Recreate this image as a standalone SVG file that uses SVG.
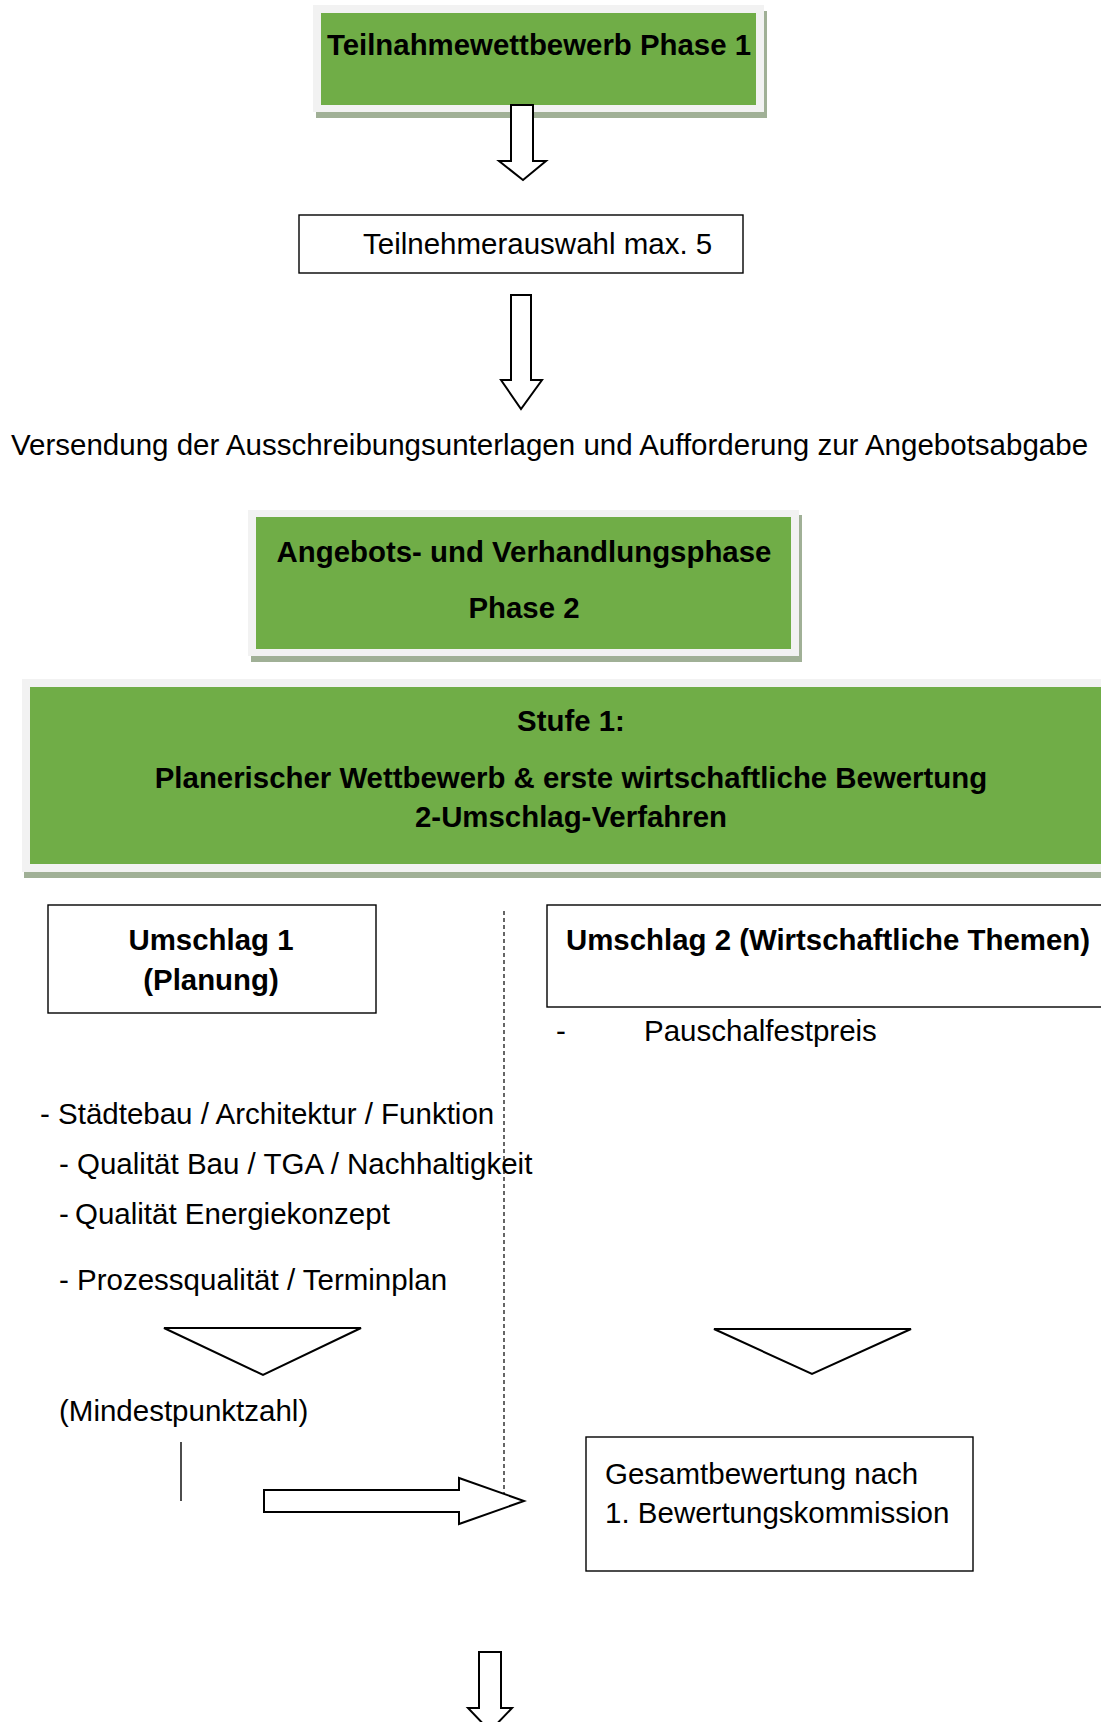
<svg xmlns="http://www.w3.org/2000/svg" width="1101" height="1722" viewBox="0 0 1101 1722">
<style>
text{font-family:"Liberation Sans",Arial,sans-serif;fill:#000}
.b{font-weight:bold;font-size:29.4px}
.r{font-size:29.5px}
.shadow{fill:#a0b096}
.frame{fill:#f2f2f2}
.green{fill:#70ad47}
.box{fill:#fff;stroke:#000;stroke-width:1.4}
.arrow{fill:#fff;stroke:#000;stroke-width:2;stroke-linejoin:miter}
.tri{fill:#fff;stroke:#000;stroke-width:2}
</style>
<rect width="1101" height="1722" fill="#fff"/>

<g id="phase1">
  <rect class="shadow" x="316" y="11" width="451" height="107"/>
  <rect class="frame" x="313" y="5" width="451" height="107"/>
  <rect class="green" x="321" y="13" width="435" height="92"/>
  <text class="b" x="539" y="55" text-anchor="middle">Teilnahmewettbewerb Phase 1</text>
</g>

<g id="auswahl">
  <rect class="box" x="299" y="215" width="444" height="58"/>
  <text class="r" x="363" y="254">Teilnehmerauswahl max. 5</text>
</g>

<g id="versendung">
  <text class="r" x="11" y="455">Versendung der Ausschreibungsunterlagen und Aufforderung zur Angebotsabgabe</text>
</g>

<g id="phase2">
  <rect class="shadow" x="251" y="515" width="551" height="147"/>
  <rect class="frame" x="248" y="510" width="551" height="146"/>
  <rect class="green" x="256" y="517" width="535" height="132"/>
  <text class="b" x="524" y="562" text-anchor="middle">Angebots- und Verhandlungsphase</text>
  <text class="b" x="524" y="618" text-anchor="middle">Phase 2</text>
</g>

<g id="stufe1">
  <rect class="shadow" x="24" y="684" width="1100" height="194"/>
  <rect class="frame" x="22" y="679" width="1100" height="193"/>
  <rect class="green" x="30" y="687" width="1090" height="177"/>
  <text class="b" x="571" y="731" text-anchor="middle">Stufe 1:</text>
  <text class="b" x="571" y="788" text-anchor="middle">Planerischer Wettbewerb &amp; erste wirtschaftliche Bewertung</text>
  <text class="b" x="571" y="827" text-anchor="middle">2-Umschlag-Verfahren</text>
</g>

<g id="umschlag1">
  <rect class="box" x="48" y="905" width="328" height="108"/>
  <text class="b" x="211" y="950" text-anchor="middle">Umschlag 1</text>
  <text class="b" x="211" y="990" text-anchor="middle">(Planung)</text>
</g>

<g id="umschlag2">
  <rect class="box" x="547" y="905" width="580" height="102"/>
  <text class="b" x="566" y="950">Umschlag 2 (Wirtschaftliche Themen)</text>
</g>

<g id="pauschal">
  <text class="r" x="556" y="1041">-</text>
  <text class="r" x="644" y="1041">Pauschalfestpreis</text>
</g>

<g id="kriterien">
  <text class="r" x="40" y="1124">- Städtebau / Architektur / Funktion</text>
  <text class="r" x="59" y="1174">- Qualität Bau / TGA / Nachhaltigkeit</text>
  <text class="r" x="59" y="1224">-</text>
  <text class="r" x="75" y="1224">Qualität Energiekonzept</text>
  <text class="r" x="59" y="1290">- Prozessqualität / Terminplan</text>
</g>

<g id="mindest">
  <text class="r" x="59" y="1421">(Mindestpunktzahl)</text>
</g>

<g id="gesamt">
  <rect class="box" x="586" y="1437" width="387" height="134"/>
  <text class="r" x="605" y="1484">Gesamtbewertung nach</text>
  <text class="r" x="605" y="1523">1. Bewertungskommission</text>
</g>

<g id="connectors">
  <path class="arrow" d="M511,105 V161 H499 L523,180 L546,161 H533 V105 Z"/>
  <path class="arrow" d="M511,295 V380 H501 L521,409 L542,380 H531 V295 Z"/>
  <line x1="504" y1="911" x2="504" y2="1495" stroke="#000" stroke-width="1.2" stroke-dasharray="4,3"/>
  <path class="tri" d="M164,1328 H361 L263,1375 Z"/>
  <path class="tri" d="M714,1329 H911 L812,1374 Z"/>
  <line x1="181" y1="1442" x2="181" y2="1501" stroke="#000" stroke-width="1.4"/>
  <path class="arrow" d="M264,1490 H459 V1478 L524,1501 L459,1524 V1512 H264 Z"/>
  <path class="arrow" d="M479,1652 V1708 H468 L490,1731 L512,1708 H501 V1652 Z"/>
</g>
</svg>
